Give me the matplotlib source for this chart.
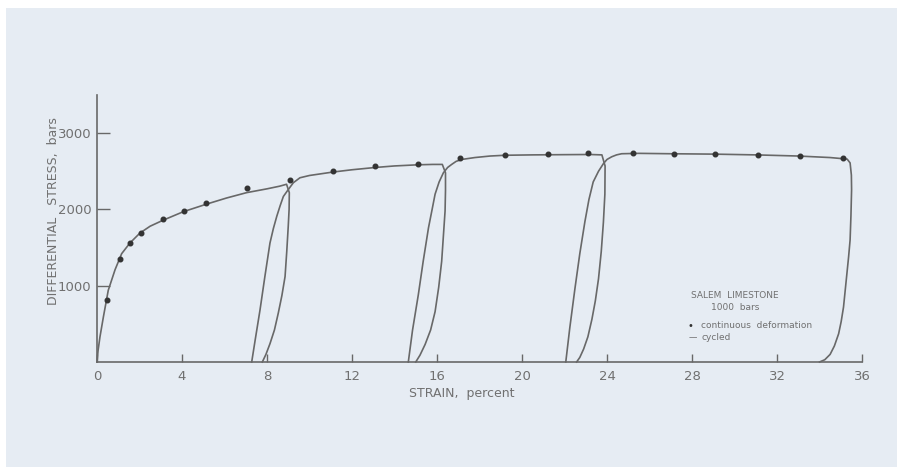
import matplotlib.pyplot as plt
from matplotlib.patches import Rectangle

# continuous deformation points (strain %, stress bars)
dot_strain = [0.47, 1.08, 1.55, 2.07, 3.1, 4.09, 5.13, 7.06, 9.08, 11.1, 13.1,
              15.1, 17.1, 19.2, 21.2, 23.1, 25.2, 27.15, 29.1, 31.1, 33.1, 35.1]
dot_stress = [815, 1355, 1565, 1695, 1880, 1985, 2090, 2275, 2385, 2500, 2565,
              2600, 2670, 2710, 2725, 2735, 2735, 2725, 2725, 2710, 2695, 2670]

# cycled test, one list per loading/unloading run
cyc1_strain = [0, 0.05, 0.14, 0.3, 0.53, 0.85, 1.16, 1.55, 2.02, 2.5, 3.12, 4.06,
               5.16, 6.1, 7.04, 8.0, 8.6, 8.92, 9.05, 9.04, 9.0, 8.93, 8.85, 8.7,
               8.53, 8.35, 8.14, 7.95, 7.78]
cyc1_stress = [0, 150, 330, 590, 940, 1210, 1420, 1560, 1690, 1780, 1860, 1970,
               2070, 2150, 2220, 2270, 2305, 2330, 2220, 2000, 1780, 1450, 1120, 870,
               640, 420, 240, 100, 0]

cyc2_strain = [7.28, 7.45, 7.67, 7.9, 8.14, 8.3, 8.46, 8.62, 8.77, 9.0, 9.24, 9.55,
               10.0, 10.49, 11.1, 12.0, 13.1, 14.0, 15.1, 15.8, 16.25, 16.4, 16.4,
               16.38, 16.3, 16.22, 16.08, 15.91, 15.7, 15.44, 15.2, 15.0]
cyc2_stress = [0, 300, 680, 1120, 1560, 1750, 1910, 2050, 2170, 2260, 2350, 2415,
               2445, 2465, 2490, 2520, 2550, 2570, 2585, 2590, 2590, 2480, 2250,
               1980, 1650, 1320, 980, 660, 420, 230, 90, 0]

cyc3_strain = [14.65, 14.85, 15.12, 15.35, 15.6, 15.77, 15.91, 16.1, 16.3, 16.5,
               16.69, 16.9, 17.16, 17.78, 18.5, 19.2, 20.5, 22.0, 23.2, 23.76,
               23.91, 23.9, 23.83, 23.73, 23.6, 23.45, 23.29, 23.1, 22.9, 22.72, 22.57]
cyc3_stress = [0, 420, 880, 1320, 1760, 2000, 2200, 2360, 2480, 2550,
               2590, 2630, 2655, 2680, 2700, 2710, 2715, 2718, 2720, 2715,
               2570, 2200, 1830, 1450, 1090, 800, 560, 330, 170, 60, 0]

cyc4_strain = [22.06, 22.25, 22.49, 22.72, 22.96, 23.15, 23.35, 23.6, 23.83, 24.0,
               24.22, 24.45, 24.69, 25.5, 27, 29, 31, 33, 34.5, 35.3, 35.44, 35.5,
               35.51, 35.48, 35.44, 35.37, 35.29, 35.13, 35.02, 34.9, 34.7, 34.5,
               34.25, 34.0]
cyc4_stress = [0, 450, 960, 1420, 1840, 2130, 2360, 2500, 2600, 2655,
               2690, 2715, 2730, 2735, 2730, 2725, 2715, 2700, 2680, 2660, 2610, 2450,
               2260, 1920, 1600, 1380, 1160, 720, 530, 370, 210, 100, 30, 0]

x_ticks = [0, 4, 8, 12, 16, 20, 24, 28, 32, 36]
y_ticks = [1000, 2000, 3000]

bg = '#e6ecf3'
ink = '#686868'
txt = '#707070'

fig = plt.figure(figsize=(8.97, 4.67), dpi=100, facecolor='white')
fig.patches.append(Rectangle((6 / 897, 0), 1, 1 - 8 / 467, transform=fig.transFigure,
                             facecolor=bg, edgecolor='none', zorder=-10))

ax = fig.add_axes([97 / 897, 1 - 362 / 467, 765 / 897, 267 / 467])
ax.set_facecolor('none')

for xs, ys in [(cyc1_strain, cyc1_stress), (cyc2_strain, cyc2_stress),
               (cyc3_strain, cyc3_stress), (cyc4_strain, cyc4_stress)]:
    ax.plot(xs, ys, color=ink, lw=1.2, solid_joinstyle='round', clip_on=False)

ax.plot(dot_strain, dot_stress, 'o', color='#333333', ms=3.3, clip_on=False, zorder=3)

ax.set_xlim(0, 36)
ax.set_ylim(0, 3500)
ax.set_xticks(x_ticks)
ax.set_yticks(y_ticks)
ax.set_xticklabels([str(v) for v in x_ticks])
ax.set_yticklabels(['1000', '2000', '3000'])
ax.tick_params(axis='x', direction='in', length=6, width=1, color=ink,
               labelcolor=txt, labelsize=9.5, pad=6)
ax.tick_params(axis='y', direction='in', length=9, width=1, color=ink,
               labelcolor=txt, labelsize=9.5, pad=4)
for s in ['top', 'right']:
    ax.spines[s].set_visible(False)
for s in ['left', 'bottom']:
    ax.spines[s].set_color(ink)
    ax.spines[s].set_linewidth(1.2)

fig.text(462 / 897, 1 - 393 / 467, 'STRAIN,  percent', ha='center', va='center',
         color=txt, fontsize=9)
fig.text(53 / 897, 1 - 211 / 467, 'DIFFERENTIAL   STRESS,  bars', ha='center',
         va='center', rotation=90, color=txt, fontsize=9)

fig.text(735 / 897, 1 - 295 / 467, 'SALEM  LIMESTONE', ha='center', va='center',
         color=txt, fontsize=6.5)
fig.text(735 / 897, 1 - 307 / 467, '1000  bars', ha='center', va='center',
         color=txt, fontsize=6.5)
fig.text(690 / 897, 1 - 326 / 467, '\u2022', ha='center', va='center',
         color='#333333', fontsize=7)
fig.text(701 / 897, 1 - 326 / 467, 'continuous  deformation', ha='left', va='center',
         color=txt, fontsize=6.5)
fig.text(693 / 897, 1 - 338 / 467, '\u2014', ha='center', va='center',
         color=txt, fontsize=6)
fig.text(701 / 897, 1 - 338 / 467, 'cycled', ha='left', va='center',
         color=txt, fontsize=6.5)

fig.savefig('out.png', dpi=100, facecolor=fig.get_facecolor())
